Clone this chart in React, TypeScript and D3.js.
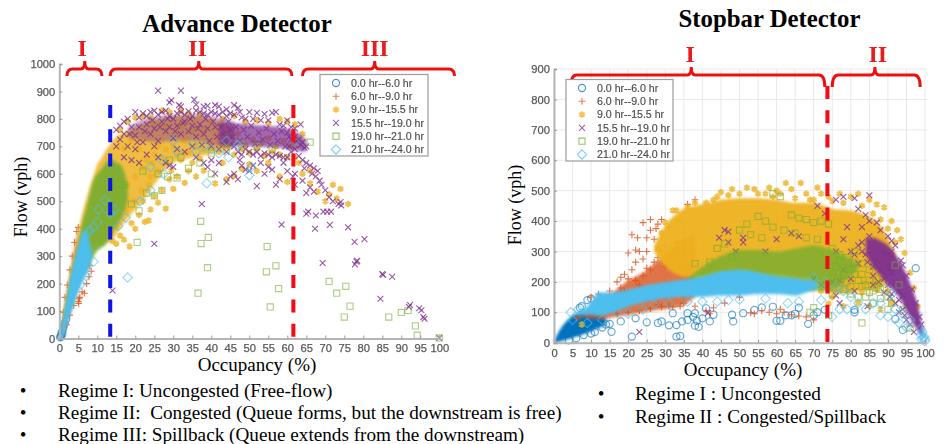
import React, { useEffect, useRef } from 'react';
import * as d3 from 'd3';

type Pt = [number, number];

const legendLabels = ['0.0 hr--6.0 hr', '6.0 hr--9.0 hr', '9.0 hr--15.5 hr', '15.5 hr--19.0 hr', '19.0 hr--21.0 hr', '21.0 hr--24.0 hr'];
const seriesColors = ['#0072BD', '#D95319', '#EDB120', '#7E2F8E', '#77AC30', '#4DBEEE'];
const xTicks = d3.range(0, 101, 5);

// Advance detector: the solid core of each cloud, read as occupancy + low/high flow
const advOrangeCore = { occ: [0, 1, 2, 3, 4, 5], lo: [0, 20, 70, 110, 160, 200], hi: [0, 60, 150, 230, 320, 400] };
const advYellowCore = {
  occ: [1, 2, 3, 4, 5, 6, 7, 8, 9, 10, 11, 12, 13, 14, 15, 17, 20, 23, 26, 30, 36, 42, 46],
  lo: [40, 90, 130, 170, 200, 230, 270, 300, 340, 345, 345, 350, 350, 360, 380, 420, 470, 520, 580, 640, 660, 680, 700],
  hi: [100, 170, 250, 320, 390, 450, 500, 550, 590, 635, 655, 680, 700, 720, 735, 750, 770, 790, 800, 810, 810, 790, 770],
};
const advPurpleHaze = {
  occ: [18, 22, 26, 30, 34, 38, 42, 46],
  lo: [730, 720, 715, 720, 720, 715, 700, 695],
  hi: [770, 800, 810, 815, 815, 815, 805, 790],
};
const advPurpleCore = {
  occ: [42, 46, 50, 54, 58, 62, 65],
  lo: [705, 700, 700, 698, 695, 685, 680],
  hi: [790, 785, 780, 775, 770, 755, 725],
};
const advGreenCore = {
  occ: [1, 2, 3, 4, 5, 6, 7, 8, 9, 10, 11, 12, 13, 14, 15, 16, 17, 18],
  lo: [30, 70, 110, 150, 190, 220, 250, 270, 300, 320, 330, 340, 360, 390, 410, 430, 460, 500],
  hi: [60, 130, 210, 280, 340, 420, 470, 525, 575, 600, 615, 635, 650, 650, 640, 635, 610, 560],
};
const advCyanCore = {
  occ: [0, 1, 2, 3, 4, 5, 6, 7, 8, 8.6],
  lo: [0, 8, 50, 90, 130, 170, 205, 230, 260, 300],
  hi: [0, 75, 155, 230, 290, 340, 385, 395, 350, 315],
};
const advBlue: Pt[] = [[0.2, 4], [0.4, 12], [0.6, 22], [0.9, 30], [1.1, 42], [1.4, 55], [1.8, 70], [0.5, 6], [0.8, 16]];
const advOrange: Pt[] = [[5, 135], [5.2, 145], [5.4, 150], [5.1, 128], [6, 170], [6.6, 165], [7.2, 200], [7.8, 225], [8.4, 245], [8, 265], [2.8, 250], [3.4, 300], [4, 350], [4.6, 390], [5, 405], [1.5, 150], [2.1, 195], [1.1, 95], [3.8, 120], [2.7, 85], [1.9, 50]];
const advYellow: Pt[] = [
  [18.5, 335], [17, 360], [15, 345], [16, 375], [14, 355], [20, 400], [19, 420], [22.5, 425], [23.5, 430], [21, 450], [24, 470], [28, 473], [26, 495], [25, 520], [27, 540], [30, 545], [22, 500],
  [33, 567], [29, 580], [31, 590], [36, 590], [38, 612], [34, 610], [41, 565], [44, 580], [46, 592], [48, 618], [50, 635], [52, 610], [55, 640], [58, 590], [60, 570], [43, 640], [35, 640], [32, 650], [37, 655], [26, 610], [24, 590], [28, 640],
  [16, 760], [18, 790], [20, 805], [22, 810], [24, 805], [27, 830], [29, 825], [32, 830], [34, 820], [37, 815], [40, 790], [43, 800], [46, 810], [49, 790], [52, 795], [55, 785], [58, 800], [60, 790], [62, 780], [64, 745],
  [30, 700], [33, 720], [36, 700], [38, 690], [40, 705], [42, 680], [44, 700], [46, 670], [48, 690], [50, 675], [52, 690], [54, 665], [56, 680], [58, 670], [60, 660], [34, 680], [31, 670], [28, 690], [26, 700], [62, 660], [63, 640],
  [64, 600], [66, 565], [68, 535], [71, 525], [73, 510], [76, 490], [66, 610], [70, 500], [74, 545], [72, 560], [17, 690], [19, 720], [21, 690], [23, 650], [25, 670],
  [15.5, 450], [17.5, 470], [19.5, 500], [21.5, 540], [23.5, 560], [16, 520], [18, 560], [20, 590], [22, 620], [24.5, 640], [27, 660], [15, 410], [13.5, 390], [12, 385], [11, 375], [29.5, 612],
  [38, 760], [41, 745], [45, 720], [47, 745], [51, 725], [55, 730], [59, 720], [61, 700], [35, 755], [32, 770], [28, 775], [25, 780], [49, 705], [53, 710], [57, 700],
];
const advPurple: Pt[] = [
  [14, 175], [25, 345], [37.5, 490], [58.5, 415], [65, 455], [65.5, 462], [67.5, 448], [67.3, 400], [69.3, 275], [69.5, 462], [70.5, 462], [71.2, 414], [71.5, 462], [73.5, 490], [74, 497], [74.2, 485], [76, 405], [77.7, 352], [77.8, 270], [78.2, 280], [78.4, 283], [80.3, 362], [84.5, 145], [85, 235], [85.2, 232], [87.6, 225], [92, 115], [92.3, 122], [94.7, 110], [95.3, 103], [95.8, 78], [96.1, 72], [100, 2],
  [26, 903], [32, 903], [29.5, 868], [29, 860], [31.5, 850], [32, 845], [35.5, 870], [36, 852], [38, 845], [39, 848], [41, 850], [42, 845], [44, 835], [46, 850], [47, 840], [47.5, 825], [50, 825], [52, 822], [54, 818], [56, 822], [57, 825], [60, 795], [63.5, 780],
  [15, 760], [16, 775], [17, 790], [18, 800], [20, 825], [21, 805], [22, 820], [23, 810], [24, 825], [25, 830], [26, 815], [27, 825], [28, 830], [29, 810], [30, 800], [31, 820], [32, 825], [33, 815], [34, 828], [35, 810], [36, 830], [37, 825], [38, 820], [39, 815], [40, 825], [41, 820], [42, 815], [43, 825], [44, 810], [45, 820], [46, 815], [48, 805], [49, 800], [51, 800], [53, 795], [55, 795], [58, 780], [59, 775], [61, 770], [62, 765],
  [15, 700], [16, 725], [17, 745], [18, 700], [19, 770], [20, 740], [21, 770], [22, 715], [23, 780], [24, 745], [25, 765], [26, 720], [27, 790], [28, 755], [29, 770], [30, 730], [31, 775], [32, 745], [33, 790], [34, 755], [35, 775], [36, 735], [37, 780], [38, 745], [39, 765], [40, 700], [41, 770], [42, 690], [43, 745], [44, 680], [45, 760], [46, 700], [47, 680], [48, 670], [49, 690], [50, 680], [51, 670], [52, 680], [53, 665], [54, 675], [55, 670], [56, 660], [57, 670], [58, 665], [59, 660], [60, 660],
  [17, 660], [19, 650], [20, 690], [21, 640], [23, 670], [25, 700], [26, 660], [28, 640], [29, 630], [30, 625], [31, 690], [33, 680], [35, 700], [36, 660], [38, 640], [39, 625], [40, 650], [41, 600], [42, 640], [44, 570], [45, 590], [46, 600], [47, 580], [47.5, 650], [48, 630], [49, 615], [50, 610], [51, 630], [52, 555], [53, 640], [54, 600], [55, 625], [56, 615], [57, 560], [58, 580], [59, 640], [60, 610],
  [60, 750], [60.5, 735], [61, 725], [62, 735], [62.5, 720], [63, 725], [63.5, 705], [64, 715], [64.5, 695], [65, 700], [61, 680], [62, 690], [63, 665], [64, 650], [65, 640], [62, 600], [61.5, 590], [62, 560], [64.5, 620], [66, 630], [66.5, 600], [67, 620], [67.5, 590], [68, 610], [68.5, 575], [69, 560], [70, 540], [66, 550], [64, 575], [65, 530], [67, 535], [71, 515], [72, 500],
  [18.5, 745], [20.5, 715], [22.5, 755], [24.5, 795], [26.5, 770], [28.5, 800], [30.5, 755], [32.5, 785], [34.5, 800], [36.5, 765], [38.5, 800], [40.5, 790], [42.5, 770], [44.5, 790], [46.5, 770], [48.5, 760], [50.5, 775], [52.5, 750], [54.5, 765], [56.5, 745], [58.5, 755], [60.5, 700], [45.5, 735], [47.5, 720], [49.5, 735], [51.5, 710], [53.5, 725], [55.5, 705], [57.5, 720], [59.5, 700], [43.5, 720], [41.5, 735], [39.5, 720], [37.5, 705],
];
const advGreen: Pt[] = [
  [20.5, 350], [36.5, 165], [37.2, 427], [37.3, 346], [39, 258], [39.2, 368], [54.5, 243], [54.7, 335], [55.5, 115], [57, 265], [57.7, 182], [71, 208], [73, 165], [75, 78], [75.4, 190], [76.5, 118], [86.7, 78], [90, 95], [91.8, 102], [93.7, 46], [94.2, 12], [100, 2],
  [21, 465], [19, 490], [23, 530], [25, 520], [27, 540], [28.5, 590], [31, 585], [26, 600], [22, 610], [34, 620], [37, 640], [29, 650], [32, 660], [40, 675], [44, 690], [48, 705], [52, 700], [56, 690], [62, 715], [66, 715], [40, 600], [17, 560],
];
const advCyan: Pt[] = [
  [18, 222], [5.7, 198], [7, 228], [9, 280], [10, 425], [9, 405], [8, 395], [7.6, 385], [10.3, 470], [17.5, 440], [21.3, 500], [15.5, 410], [14.5, 470], [13.4, 455], [12, 505], [24, 540], [27.5, 600], [38.8, 565], [50, 595], [50.5, 625], [44.5, 660], [42, 675], [40, 690], [38, 700], [36, 680], [31, 680], [27, 650], [24, 625], [47, 705], [44, 720], [35, 710], [30, 720],
];

// Stopbar detector
const stopBlueCore = { occ: [0, 2, 4, 6, 8, 10, 12, 14], lo: [0, 5, 12, 20, 28, 38, 48, 58], hi: [5, 50, 78, 95, 100, 100, 98, 85] };
const stopOrangeCore = {
  occ: [8, 12, 16, 20, 24, 28, 32, 35, 38],
  lo: [82, 78, 84, 92, 100, 108, 115, 125, 150],
  hi: [95, 125, 165, 205, 230, 270, 310, 340, 350],
};
const stopYellowCore = {
  occ: [27, 30, 33, 36, 40, 45, 50, 55, 60, 65, 70, 75, 80, 84, 88, 90, 92],
  lo: [300, 250, 225, 215, 220, 230, 230, 225, 225, 215, 210, 160, 165, 170, 180, 210, 270],
  hi: [320, 385, 425, 445, 455, 470, 475, 475, 470, 460, 460, 440, 435, 420, 385, 345, 290],
};
const stopGreenCore = {
  occ: [36, 40, 45, 50, 55, 60, 65, 70, 74, 78, 82],
  lo: [170, 180, 190, 195, 195, 190, 185, 170, 170, 200, 240],
  hi: [210, 250, 285, 305, 305, 300, 310, 320, 310, 290, 260],
};
const stopPurpleCore = {
  occ: [84, 86, 88, 90, 92, 94, 96, 98, 99.5],
  lo: [290, 250, 220, 190, 165, 130, 80, 40, 15],
  hi: [345, 345, 335, 320, 290, 250, 195, 125, 40],
};
const stopCyanCore = {
  occ: [6, 8, 10, 12, 15, 20, 25, 30, 35, 40, 45, 50, 55, 60, 65, 68, 71],
  lo: [90, 92, 92, 88, 95, 118, 135, 145, 150, 150, 155, 155, 160, 160, 155, 165, 180],
  hi: [94, 110, 132, 165, 165, 175, 190, 200, 208, 218, 235, 240, 232, 218, 212, 205, 200],
};
const stopBlue: Pt[] = [
  [21, 20], [15.5, 36], [25, 67], [28, 65], [29, 70], [31, 57], [33, 58], [33, 20], [34, 22], [32, 97], [36, 97], [38, 97], [38.5, 72], [38, 56], [39, 52], [34.5, 70], [36, 75], [40, 80], [41, 113], [42, 70], [43, 92], [48, 92], [48.3, 70], [51, 97], [54, 108], [56, 116], [59, 118], [60, 72], [61, 72], [62.5, 90], [64, 90], [66, 115], [68.5, 62], [70, 90], [71, 100], [73, 108], [81, 108], [81, 100], [97.5, 245], [92, 78], [94, 42], [10, 145], [9, 140], [7, 115], [7.5, 120], [11, 35], [22, 80], [18, 70], [14, 60], [37.5, 85], [65, 95],
  [13, 50], [10, 30], [8, 25], [6, 15], [4, 8], [15, 62], [12, 75], [3, 30], [5, 55],
];
const stopOrange: Pt[] = [
  [10, 150], [12, 160], [15, 170], [17, 200], [18, 215], [19, 225], [20, 210], [21, 240], [22, 265], [23, 300], [24, 275], [25, 300], [26, 370], [27, 340], [27.5, 375], [28, 390], [29, 405], [30, 320], [31, 380], [26, 405], [22, 305], [21, 355], [22.5, 345], [25, 345], [24, 395], [20, 295], [32, 300], [33, 270], [35, 330], [36, 455], [38, 470], [34, 260], [30, 250], [28, 280], [26, 240], [24, 220], [22, 205], [18, 180], [14, 150], [11, 130], [43, 115], [42, 95], [53, 98], [54, 95], [56, 105], [58, 100], [60, 95], [61, 110], [62, 100], [64, 92], [66, 88], [68, 85], [70, 75], [38, 120], [41, 105], [9, 95], [7, 85], [6, 80], [15, 130], [28, 125], [31, 120], [34, 120], [46, 130], [50, 150],
  [16, 135], [19, 170], [23, 190], [25, 245], [27, 265], [29, 300], [31, 290], [33, 330], [35, 290], [36, 240], [13, 85], [17, 95], [20, 100], [23, 105], [26, 112], [29, 118], [32, 118], [35, 130],
];
const stopYellow: Pt[] = [
  [32, 435], [36, 445], [41, 460], [44, 480], [45, 495], [48, 505], [50, 490], [52, 510], [54, 505], [57, 490], [60, 500], [61, 490], [62.5, 525], [64, 505], [66.5, 525], [68, 490], [71, 510], [72, 490], [74, 480], [77, 490], [80, 480], [82, 490], [85, 470], [87, 455], [89, 445], [91, 400], [92.5, 370], [93.5, 340], [94.5, 295], [96, 230], [97, 180], [98, 120], [74, 128], [75, 150], [78, 120], [82, 130], [85, 120], [88, 110], [90, 170], [91, 130], [43, 470], [58, 510], [70, 470], [34, 400], [29, 360], [28, 310], [31, 300], [7.5, 60], [79, 170], [83, 165], [87, 175], [76, 180], [72, 170],
  [30, 395], [33, 435], [38, 460], [47, 485], [55, 490], [59, 480], [65, 475], [69, 470], [75, 465], [78, 460], [83, 450], [86, 425], [88, 405], [90, 375], [92, 330],
];
const stopPurple: Pt[] = [
  [23, 35], [41.5, 98], [46, 370], [47, 365], [44.5, 345], [47, 330], [49, 300], [51, 345], [51, 330], [57, 300], [60, 340], [64, 360], [66, 350], [71, 450], [73, 425], [77, 130], [84.5, 120],
  [76, 470], [78, 480], [81, 475], [82, 440], [84, 420], [85, 485], [79, 380], [78, 340], [76, 300], [80, 300], [83, 380], [85, 400], [87, 395], [88, 370], [90, 350], [91, 335], [92, 320], [78, 240], [80, 210], [82, 260], [84, 290], [86, 250], [88, 240], [89, 210], [90, 190], [91, 160], [92, 130], [93, 140], [94, 110], [95, 120], [83, 330], [85, 350], [87, 270], [89, 290], [90, 250], [91, 230], [92, 200], [93, 170], [94, 155], [95, 75], [96, 60], [97, 35], [75, 200], [72, 190], [70, 210], [77, 205], [81, 170], [86, 190], [76, 155],
  [82, 320], [81, 290], [83, 300], [84.5, 265], [86, 220], [87.5, 200], [89, 165], [90.5, 150], [93, 100], [94.5, 90], [93.5, 270], [95, 220], [96.5, 175], [97.5, 130], [98.5, 85], [99, 60], [94, 255], [91, 300],
];
const stopGreen: Pt[] = [
  [50, 370], [52, 390], [55, 415], [57, 400], [59, 490], [61, 480], [64, 420], [66, 410], [68, 405], [70, 395], [72, 400], [74, 390], [53, 355], [56, 345], [59, 380], [62, 370], [65, 360], [68, 345], [71, 340], [48, 280], [42, 265], [38, 260], [44, 310], [46, 325],
  [75, 310], [77, 290], [79, 280], [81, 300], [83, 260], [85, 240], [87, 210], [89, 180], [76, 250], [78, 225], [80, 240], [82, 205], [84, 190], [86, 170], [88, 145], [76, 200], [78, 175], [80, 160], [82, 150], [75, 160], [74, 90], [83, 65], [91, 130], [93, 190], [92, 255], [94, 110], [96, 48], [90, 110], [86, 130], [70, 115], [69, 100],
  [77, 265], [79, 245], [81, 265], [83, 225], [85, 205], [87, 180], [77, 180], [79, 200], [81, 225], [83, 185], [85, 165], [75, 230], [80, 185], [84, 150], [88, 175], [90, 150],
];
const stopCyan: Pt[] = [
  [99, 25], [99.5, 15], [100, 5], [99.3, 35], [99.8, 20], [98.8, 45], [100, 12], [99, 12],
  [4.5, 100], [6.5, 110], [5, 75], [11, 125], [13, 135], [15, 125], [9, 65], [13, 75], [17, 100], [20, 95], [24, 110], [27, 125], [31, 130], [36, 135], [40, 135], [44, 135], [47, 140], [50, 142], [57, 145], [63, 130], [66, 135], [70, 215], [73, 200], [76, 180], [78, 170], [80, 150], [82, 130], [84, 110], [86, 130], [88, 90], [90, 85], [91, 160], [92, 110], [93, 65], [94, 95], [95, 50], [96, 75], [88, 130], [79, 110], [75, 85], [77, 110], [72, 140],
];

const brackets = {
  adv: [{ a: 2, b: 11.2, tip: 6.7, label: 'I', lx: 6 }, { a: 13.4, b: 61.2, tip: 36.7, label: 'II', lx: 36.4 }, { a: 64, b: 104, tip: 83, label: 'III', lx: 83 }],
  stop: [{ a: 4.5, b: 73, tip: 37, label: 'I', lx: 36.7 }, { a: 75, b: 98.7, tip: 86.5, label: 'II', lx: 87.3 }],
};
const advBullets = ['Regime I: Uncongested (Free-flow)', 'Regime II:  Congested (Queue forms, but the downstream is free)', 'Regime III: Spillback (Queue extends from the downstream)'];
const stopBullets = ['Regime I : Uncongested', 'Regime II : Congested/Spillback'];

const symbols = [d3.symbolCircle, d3.symbolPlus, d3.symbolAsterisk, d3.symbolTimes, d3.symbolSquare2, d3.symbolDiamond2];
const symbolSizes = [40, 17, 28, 24, 48, 56];
const strokeWidths = [1.2, 1.1, 2.2, 1.1, 1.1, 1.1];
const serif = '"Liberation Serif", "Times New Roman", serif';
const sans = '"Liberation Sans", Arial, sans-serif';

function drawMarks(g: any, data: Pt[], i: number, x: any, y: any) {
  const path = d3.symbol().type(symbols[i]).size(symbolSizes[i])();
  g.append('g').selectAll('path').data(data).enter().append('path')
    .attr('d', path)
    .attr('transform', (d: Pt) => 'translate(' + x(d[0]) + ',' + y(d[1]) + ')')
    .attr('fill', 'none')
    .attr('stroke', seriesColors[i])
    .attr('stroke-width', strokeWidths[i])
    .attr('stroke-opacity', i === 0 || i === 4 || i === 5 ? 0.6 : 0.8);
}

function drawCore(g: any, core: any, i: number, x: any, y: any, opacity: number) {
  const rows = core.occ.map((o: number, k: number) => ({ o, lo: core.lo[k], hi: core.hi[k] }));
  const area = d3.area<any>().x(d => x(d.o)).y0(d => y(d.lo)).y1(d => y(d.hi)).curve(d3.curveMonotoneX);
  g.append('path').attr('d', area(rows)).attr('fill', seriesColors[i]).attr('fill-opacity', opacity).attr('filter', 'url(#feather)');
}

function drawPanel(svg: any, cfg: any) {
  const { xRange, yRange, maxFlow, yStep, grid, series, marks, cuts, bracketList, bracketY, drop, legend } = cfg;
  const x = d3.scaleLinear().domain([0, 100]).range(xRange);
  const y = d3.scaleLinear().domain([0, maxFlow]).range(yRange);
  const soft = svg.append('g').attr('filter', 'url(#soft)');

  if (grid) {
    const gg = soft.append('g').attr('stroke', '#e9e9e9').attr('stroke-width', 1);
    xTicks.forEach(t => gg.append('line').attr('x1', x(t)).attr('x2', x(t)).attr('y1', yRange[0]).attr('y2', yRange[1]));
    d3.range(0, maxFlow + 1, yStep).forEach(t => gg.append('line').attr('x1', xRange[0]).attr('x2', xRange[1] + 2).attr('y1', y(t)).attr('y2', y(t)));
  }

  // plot order follows the legend: later periods sit on top
  series.forEach((cores: any[], i: number) => {
    cores.forEach(core => drawCore(soft, core.c, i, x, y, core.o));
    drawMarks(soft, marks[i], i, x, y);
  });

  const axisX = d3.axisBottom(x).tickValues(xTicks).tickSize(-3).tickPadding(6).tickFormat(d3.format('d') as any);
  const axisY = d3.axisLeft(y).tickValues(d3.range(0, maxFlow + 1, yStep)).tickSize(-3).tickPadding(4).tickFormat(d3.format('d') as any);
  [
    soft.append('g').attr('transform', 'translate(0,' + yRange[0] + ')').call(axisX),
    soft.append('g').attr('transform', 'translate(' + xRange[0] + ',0)').call(axisY),
  ].forEach(a => {
    a.selectAll('path').attr('stroke', '#b5b5b5').attr('stroke-width', 2);
    a.selectAll('line').attr('stroke', '#9a9a9a');
    a.selectAll('text').attr('fill', '#585858').attr('font-family', sans).attr('font-size', 11.2).attr('font-weight', 400).attr('stroke', '#585858').attr('stroke-width', 0.25);
  });

  // regime boundaries
  cuts.forEach((c: any) => {
    soft.append('line').attr('x1', x(c.at)).attr('x2', x(c.at)).attr('y1', c.top).attr('y2', yRange[0])
      .attr('stroke', c.color).attr('stroke-width', 4).attr('stroke-dasharray', '13 11.3');
  });

  // curly brackets and regime numerals
  bracketList.forEach((b: any) => {
    const x0 = x(b.a), x1 = x(b.b), t = x(b.tip);
    const yb = bracketY, r = 4;
    soft.append('path')
      .attr('d', 'M' + x0 + ',' + (yb + drop) + 'Q' + x0 + ',' + yb + ' ' + (x0 + r + 2) + ',' + yb + 'L' + (t - r) + ',' + yb + 'Q' + t + ',' + yb + ' ' + t + ',' + (yb - 8)
        + 'Q' + t + ',' + yb + ' ' + (t + r) + ',' + yb + 'L' + (x1 - r - 2) + ',' + yb + 'Q' + x1 + ',' + yb + ' ' + x1 + ',' + (yb + drop))
      .attr('fill', 'none').attr('stroke', '#f01010').attr('stroke-width', 3);
    soft.append('text').attr('x', x(b.lx)).attr('y', yb - 13).attr('text-anchor', 'middle')
      .attr('fill', '#e81c1c').attr('font-family', serif).attr('font-weight', 700).attr('font-size', 24).text(b.label);
  });

  // legend
  const lg = soft.append('g');
  lg.append('rect').attr('x', legend.x).attr('y', legend.y).attr('width', legend.w).attr('height', legend.h)
    .attr('fill', '#fff').attr('stroke', '#9c9c9c').attr('stroke-width', 1.2);
  legendLabels.forEach((label, i) => {
    const ly = legend.y + 8.5 + i * 13.3;
    lg.append('path').attr('d', d3.symbol().type(symbols[i]).size(symbolSizes[i])())
      .attr('transform', 'translate(' + (legend.x + 16) + ',' + ly + ')')
      .attr('fill', 'none').attr('stroke', seriesColors[i]).attr('stroke-width', strokeWidths[i]).attr('stroke-opacity', 0.75);
    lg.append('text').attr('x', legend.x + 31).attr('y', ly + 3.8).attr('fill', '#4a4a4a')
      .attr('font-family', sans).attr('font-size', 10.6).attr('stroke', '#4a4a4a').attr('stroke-width', 0.15).text(label);
  });
}

export default function App() {
  const ref = useRef<SVGSVGElement>(null);

  useEffect(() => {
    const svg = d3.select(ref.current);
    svg.selectAll('*').remove();
    const defs = svg.append('defs');
    [['soft', 0.45], ['feather', 1.6]].forEach(([id, dev]) => {
      defs.append('filter').attr('id', id).attr('x', 0).attr('y', 0)
        .attr('width', 944).attr('height', 444).attr('filterUnits', 'userSpaceOnUse')
        .append('feGaussianBlur').attr('stdDeviation', dev);
    });

    drawPanel(svg, {
      xRange: [59.3, 439.3], yRange: [338.5, 64], maxFlow: 1000, yStep: 100, grid: false,
      series: [[], [{ c: advOrangeCore, o: 0.85 }], [{ c: advYellowCore, o: 0.85 }], [{ c: advPurpleHaze, o: 0.42 }, { c: advPurpleCore, o: 0.72 }], [{ c: advGreenCore, o: 0.92 }], [{ c: advCyanCore, o: 1 }]],
      marks: [advBlue, advOrange, advYellow, advPurple, advGreen, advCyan],
      cuts: [{ at: 13.4, color: '#0a14e6', top: 105 }, { at: 61.6, color: '#f00a14', top: 105 }],
      bracketList: brackets.adv, bracketY: 69, drop: 7,
      legend: { x: 320, y: 74.5, w: 108, h: 81.5 },
    });
    drawPanel(svg, {
      xRange: [554, 925], yRange: [342.7, 69], maxFlow: 900, yStep: 100, grid: true,
      series: [[{ c: stopBlueCore, o: 1 }], [{ c: stopOrangeCore, o: 0.8 }], [{ c: stopYellowCore, o: 0.95 }], [{ c: stopPurpleCore, o: 0.95 }], [{ c: stopGreenCore, o: 0.8 }], [{ c: stopCyanCore, o: 1 }]],
      marks: [stopBlue, stopOrange, stopYellow, stopPurple, stopGreen, stopCyan],
      cuts: [{ at: 73.7, color: '#f00a14', top: 86 }],
      bracketList: brackets.stop, bracketY: 75, drop: 12,
      legend: { x: 566, y: 79.5, w: 107, h: 81.5 },
    });

    const label = (tx: number, ty: number, txt: string, size: number, weight = 400, anchor = 'middle', rotate = false) => {
      svg.append('text')
        .attr('transform', 'translate(' + tx + ',' + ty + ')' + (rotate ? ' rotate(-90)' : ''))
        .attr('text-anchor', anchor).attr('fill', '#000').attr('font-family', serif)
        .attr('font-size', size).attr('font-weight', weight).style('white-space', 'pre').text(txt);
    };
    label(237, 32, 'Advance Detector', 24.8, 700);
    label(769.5, 27, 'Stopbar Detector', 24.8, 700);
    label(257, 371, 'Occupancy (%)', 19);
    label(743, 376, 'Occupancy (%)', 19);
    label(27, 197, 'Flow (vph)', 18, 400, 'middle', true);
    label(521, 205, 'Flow (vph)', 18, 400, 'middle', true);

    advBullets.forEach((t, i) => {
      label(23, 396.5 + i * 22, '\u2022', 19.2);
      label(58, 396.5 + i * 22, t, 19.2, 400, 'start');
    });
    stopBullets.forEach((t, i) => {
      label(601, 400 + i * 22.7, '\u2022', 19.2);
      label(635, 400 + i * 22.7, t, 19.2, 400, 'start');
    });
  }, []);

  return <svg ref={ref} width={944} height={444} style={{ position: 'absolute', left: 0, top: 0, display: 'block' }} />;
}
